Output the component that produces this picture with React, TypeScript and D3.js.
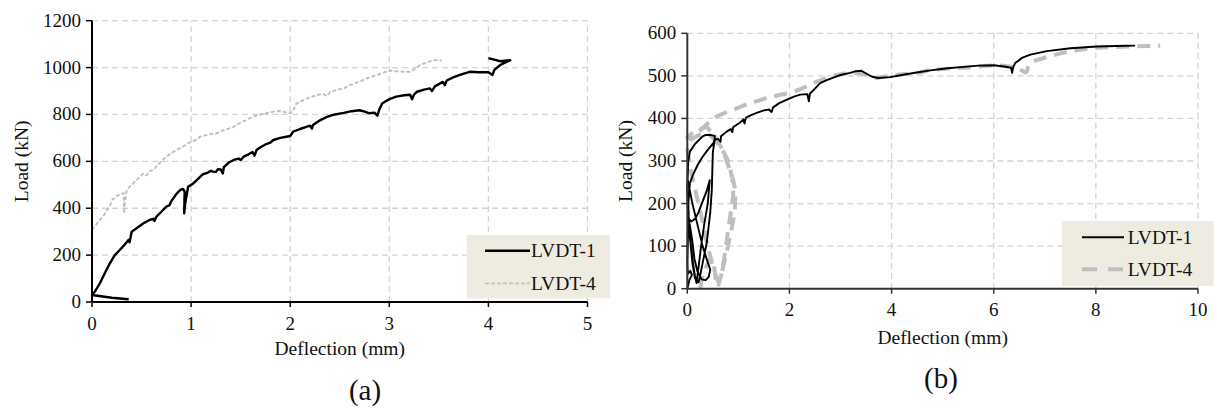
import React from "react";
import * as d3 from "d3";

// ---------- data: chart (a) ----------
const aXTicks = [0, 1, 2, 3, 4, 5];
const aYTicks = [0, 200, 400, 600, 800, 1000, 1200];
const aLvdt1: [number, number][] = [
  [0.37, 12], [0.2, 18], [0.0, 30], [0.03, 45], [0.08, 80], [0.12, 115], [0.18, 165], [0.23, 200],
  [0.28, 222], [0.33, 245], [0.37, 265], [0.38, 255], [0.4, 300], [0.46, 318], [0.52, 336], [0.58, 350],
  [0.62, 355], [0.63, 345], [0.65, 364], [0.7, 385], [0.75, 407], [0.78, 412], [0.8, 430], [0.85, 460],
  [0.89, 478], [0.92, 482], [0.935, 470], [0.93, 378], [0.94, 420], [0.97, 492], [1.02, 505], [1.07, 525],
  [1.12, 545], [1.17, 552], [1.2, 560], [1.22, 556], [1.25, 555], [1.27, 566], [1.3, 565], [1.32, 548],
  [1.33, 575], [1.38, 595], [1.43, 606], [1.48, 612], [1.5, 605], [1.53, 620], [1.58, 630], [1.62, 640],
  [1.64, 624], [1.66, 648], [1.7, 660], [1.75, 672], [1.8, 680], [1.83, 691], [1.9, 700], [1.96, 705],
  [2.0, 708], [2.03, 727], [2.1, 738], [2.17, 748], [2.2, 752], [2.22, 740], [2.23, 755], [2.3, 775],
  [2.37, 790], [2.45, 800], [2.54, 807], [2.62, 814], [2.7, 818], [2.75, 812], [2.8, 805], [2.85, 808],
  [2.88, 795], [2.9, 822], [2.93, 848], [3.0, 865], [3.07, 876], [3.15, 882], [3.21, 884], [3.23, 865],
  [3.25, 885], [3.28, 897], [3.35, 906], [3.41, 911], [3.43, 900], [3.46, 920], [3.54, 939], [3.56, 925],
  [3.58, 945], [3.65, 959], [3.72, 970], [3.81, 982], [3.9, 980], [4.0, 980], [4.04, 968], [4.06, 990],
  [4.12, 1011], [4.22, 1032], [4.12, 1027], [4.0, 1040],
];
const aLvdt4: [number, number][] = [
  [0, 307], [0.04, 330], [0.08, 350], [0.12, 370], [0.15, 392], [0.18, 410], [0.21, 440], [0.23, 442],
  [0.26, 455], [0.3, 462], [0.32, 464], [0.325, 378], [0.33, 420], [0.35, 478], [0.4, 500], [0.45, 520],
  [0.48, 535], [0.52, 548], [0.55, 540], [0.58, 558], [0.62, 563], [0.66, 585], [0.7, 600], [0.75, 620],
  [0.8, 635], [0.86, 650], [0.92, 663], [0.98, 680], [1.04, 690], [1.09, 705], [1.15, 712], [1.2, 716],
  [1.26, 720], [1.32, 732], [1.38, 740], [1.43, 748], [1.5, 765], [1.55, 775], [1.59, 784], [1.65, 795],
  [1.7, 800], [1.76, 805], [1.83, 812], [1.9, 815], [1.95, 810], [2.0, 805], [2.03, 815], [2.06, 845],
  [2.1, 855], [2.18, 870], [2.27, 883], [2.33, 888], [2.37, 878], [2.4, 895], [2.47, 905], [2.54, 911],
  [2.6, 925], [2.7, 940], [2.78, 955], [2.87, 968], [2.95, 980], [3.01, 987], [3.1, 983], [3.21, 982],
  [3.26, 995], [3.31, 1011], [3.38, 1022], [3.44, 1032], [3.53, 1030],
];

// ---------- data: chart (b) ----------
const bXTicks = [0, 2, 4, 6, 8, 10];
const bYTicks = [0, 100, 200, 300, 400, 500, 600];
const bLvdt1: [number, number][] = [
  [0, 0], [0.04, 20], [0.09, 32], [0.06, 42], [0.01, 35], [0.0, 60], [0.01, 110], [0.02, 170], [0.0, 230],
  [0.01, 255], [0.1, 200], [0.2, 150], [0.3, 100], [0.4, 62], [0.45, 45], [0.42, 28], [0.36, 20], [0.28, 22],
  [0.2, 40], [0.14, 70], [0.1, 110], [0.05, 150], [0.02, 165], [0.08, 158], [0.16, 165], [0.22, 180],
  [0.3, 205], [0.38, 230], [0.44, 255], [0.4, 200], [0.33, 150], [0.27, 100], [0.22, 50], [0.18, 13],
  [0.15, 30], [0.1, 70], [0.05, 120], [0.02, 180], [0.0, 240], [0.02, 300], [0.05, 322], [0.15, 340],
  [0.3, 358], [0.35, 361], [0.45, 361], [0.54, 359], [0.53, 345], [0.5, 320], [0.48, 232], [0.45, 180],
  [0.38, 107], [0.3, 60], [0.25, 30], [0.22, 15], [0.15, 25], [0.1, 60], [0.06, 110], [0.03, 160],
  [0.02, 200], [0.05, 248], [0.12, 270], [0.2, 290], [0.3, 310], [0.4, 326], [0.51, 342], [0.54, 350],
  [0.6, 352], [0.65, 345], [0.66, 358], [0.77, 369], [0.85, 375], [0.88, 368], [0.9, 380], [1.03, 390],
  [1.1, 398], [1.12, 388], [1.15, 402], [1.25, 408], [1.36, 413], [1.5, 419], [1.6, 421], [1.65, 415],
  [1.68, 426], [1.8, 436], [1.95, 444], [2.1, 452], [2.21, 456], [2.35, 457], [2.38, 440], [2.4, 458],
  [2.5, 470], [2.6, 483], [2.73, 490], [2.86, 496], [3.0, 502], [3.19, 507], [3.3, 511], [3.41, 512],
  [3.51, 505], [3.62, 498], [3.74, 495], [3.97, 497], [4.2, 502], [4.49, 508], [4.76, 513], [5.1, 518],
  [5.41, 521], [5.7, 524], [6.0, 525], [6.2, 522], [6.34, 519], [6.36, 507], [6.38, 520], [6.42, 530],
  [6.55, 542], [6.72, 550], [7.04, 558], [7.5, 565], [8.02, 569], [8.4, 570], [8.77, 571],
];
const bLvdt4: [number, number][] = [
  [0.25, 0], [0.3, 30], [0.38, 55], [0.45, 72], [0.52, 60], [0.55, 25], [0.6, 5], [0.66, 30], [0.72, 70],
  [0.78, 120], [0.84, 170], [0.9, 220], [0.88, 260], [0.8, 300], [0.65, 335], [0.45, 360], [0.25, 362],
  [0.08, 352], [0.0, 330], [0.05, 290], [0.12, 250], [0.25, 184], [0.38, 110], [0.48, 62], [0.55, 35],
  [0.6, 18], [0.68, 40], [0.76, 80], [0.85, 130], [0.93, 180], [0.94, 230], [0.9, 255], [0.8, 290],
  [0.7, 325], [0.55, 355], [0.38, 381], [0.25, 375], [0.12, 368], [0.0, 355], [0.1, 362], [0.25, 372],
  [0.4, 388], [0.58, 405], [0.75, 414], [0.9, 420], [1.05, 428], [1.23, 436], [1.4, 442], [1.55, 448],
  [1.8, 455], [2.01, 460], [2.2, 468], [2.47, 483], [2.65, 492], [2.86, 500], [3.05, 505], [3.25, 507],
  [3.4, 506], [3.51, 503], [3.71, 495], [3.9, 499], [4.16, 503], [4.56, 508], [4.75, 514], [5.1, 517],
  [5.41, 519], [5.8, 523], [6.06, 525], [6.33, 522], [6.5, 516], [6.62, 508], [6.65, 511], [6.68, 526],
  [6.8, 535], [6.98, 542], [7.25, 551], [7.5, 558], [7.8, 563], [8.02, 566], [8.4, 568], [8.67, 569],
  [9.0, 570], [9.26, 571],
];

const seriesNames = ["LVDT-1", "LVDT-4"];
const xTitle = "Deflection (mm)";
const yTitle = "Load (kN)";

const FONT = "'Liberation Serif', 'Times New Roman', serif";
const GRID = "#D4D4D4";
const GRAY = "#BFBFBF";

type PanelProps = {
  x0: number; x1: number; y0: number; y1: number;
  xDomain: [number, number]; yDomain: [number, number];
  xTicks: number[]; yTicks: number[];
  s1: [number, number][]; s4: [number, number][];
  s1Width: number; s4Width: number; s4Dash: string;
  axisColor: string;
  yTitleX: number; xTitleY: number;
  legend: { x: number; y: number; w: number; h: number; lx0: number; lx1: number; ly1: number; ly4: number; tx: number; tb1: number; tb4: number; dash: string; dw: number };
  label: string; labelX: number; labelY: number;
};

function Panel(p: PanelProps) {
  const xs = d3.scaleLinear().domain(p.xDomain).range([p.x0, p.x1]);
  const ys = d3.scaleLinear().domain(p.yDomain).range([p.y0, p.y1]);
  const line = d3.line<[number, number]>().x((d) => xs(d[0])).y((d) => ys(d[1]));
  const yc = (p.y0 + p.y1) / 2;
  const xc = (p.x0 + p.x1) / 2;
  const L = p.legend;
  return (
    <g>
      {p.xTicks.slice(1).map((t) => (
        <line key={"gx" + t} x1={xs(t)} x2={xs(t)} y1={p.y0} y2={p.y1} stroke={GRID} strokeWidth={1.3} strokeDasharray="6,4" />
      ))}
      {p.yTicks.slice(1).map((t) => (
        <line key={"gy" + t} x1={p.x0} x2={p.x1} y1={ys(t)} y2={ys(t)} stroke={GRID} strokeWidth={1.3} strokeDasharray="6,4" />
      ))}
      <path d={line(p.s4) || ""} fill="none" stroke={GRAY} strokeWidth={p.s4Width} strokeDasharray={p.s4Dash} strokeLinejoin="round" />
      <path d={line(p.s1) || ""} fill="none" stroke="#000" strokeWidth={p.s1Width} strokeLinejoin="round" />
      <line x1={p.x0} x2={p.x0} y1={p.y0} y2={p.y1} stroke={p.axisColor} strokeWidth={2} />
      <line x1={p.x0} x2={p.x1} y1={p.y0} y2={p.y0} stroke={p.axisColor} strokeWidth={2} />
      {p.yTicks.map((t) => (
        <g key={"yt" + t}>
          <line x1={p.x0 - 6} x2={p.x0} y1={ys(t)} y2={ys(t)} stroke={p.axisColor} strokeWidth={1.5} />
          <text x={p.x0 - 11} y={ys(t) + 6} textAnchor="end" fontFamily={FONT} fontSize={19} fill="#111">{t}</text>
        </g>
      ))}
      {p.xTicks.map((t) => (
        <g key={"xt" + t}>
          <line x1={xs(t)} x2={xs(t)} y1={p.y0} y2={p.y0 + 5} stroke={p.axisColor} strokeWidth={1.5} />
          <text x={xs(t)} y={p.y0 + 27.5} textAnchor="middle" fontFamily={FONT} fontSize={19} fill="#111">{t}</text>
        </g>
      ))}
      <text x={xc} y={p.xTitleY} textAnchor="middle" fontFamily={FONT} fontSize={19.5} fill="#111">{xTitle}</text>
      <text transform={`translate(${p.yTitleX},${yc}) rotate(-90)`} textAnchor="middle" fontFamily={FONT} fontSize={19.5} fill="#111">{yTitle}</text>
      <rect x={L.x} y={L.y} width={L.w} height={L.h} fill="#EEECE1" />
      <line x1={L.lx0} x2={L.lx1} y1={L.ly1} y2={L.ly1} stroke="#000" strokeWidth={p.s1Width} />
      <line x1={L.lx0} x2={L.lx1} y1={L.ly4} y2={L.ly4} stroke={GRAY} strokeWidth={L.dw} strokeDasharray={L.dash} />
      <text x={L.tx} y={L.tb1} fontFamily={FONT} fontSize={19.5} fill="#111">{seriesNames[0]}</text>
      <text x={L.tx} y={L.tb4} fontFamily={FONT} fontSize={19.5} fill="#111">{seriesNames[1]}</text>
      <text x={p.labelX} y={p.labelY} textAnchor="middle" fontFamily={FONT} fontSize={29} fill="#111">{p.label}</text>
    </g>
  );
}

export default function App() {
  return (
    <svg width={1217} height={410} style={{ position: "absolute", left: 0, top: 0, background: "#fff" }}>
      <rect x={0} y={0} width={1217} height={410} fill="#fff" />
      <Panel
        x0={92} x1={587.5} y0={302} y1={20.7}
        xDomain={[0, 5]} yDomain={[0, 1200]}
        xTicks={aXTicks} yTicks={aYTicks}
        s1={aLvdt1} s4={aLvdt4}
        s1Width={2.4} s4Width={1.9} s4Dash="4,2"
        axisColor="#000"
        yTitleX={28} xTitleY={355}
        legend={{ x: 466.7, y: 235, w: 143.3, h: 63.3, lx0: 485, lx1: 530, ly1: 250.7, ly4: 283.3, tx: 531, tb1: 257.3, tb4: 289.5, dash: "4,2", dw: 1.8 }}
        label="(a)" labelX={365} labelY={400}
      />
      <Panel
        x0={687.3} x1={1198} y0={288.7} y1={33.3}
        xDomain={[0, 10]} yDomain={[0, 600]}
        xTicks={bXTicks} yTicks={bYTicks}
        s1={bLvdt1} s4={bLvdt4}
        s1Width={1.9} s4Width={4} s4Dash="13,8"
        axisColor="#333"
        yTitleX={632} xTitleY={344}
        legend={{ x: 1062, y: 221, w: 151.7, h: 65, lx0: 1082, lx1: 1124, ly1: 237.3, ly4: 269.3, tx: 1127.7, tb1: 244, tb4: 276, dash: "15,11", dw: 4 }}
        label="(b)" labelX={941} labelY={388}
      />
    </svg>
  );
}
